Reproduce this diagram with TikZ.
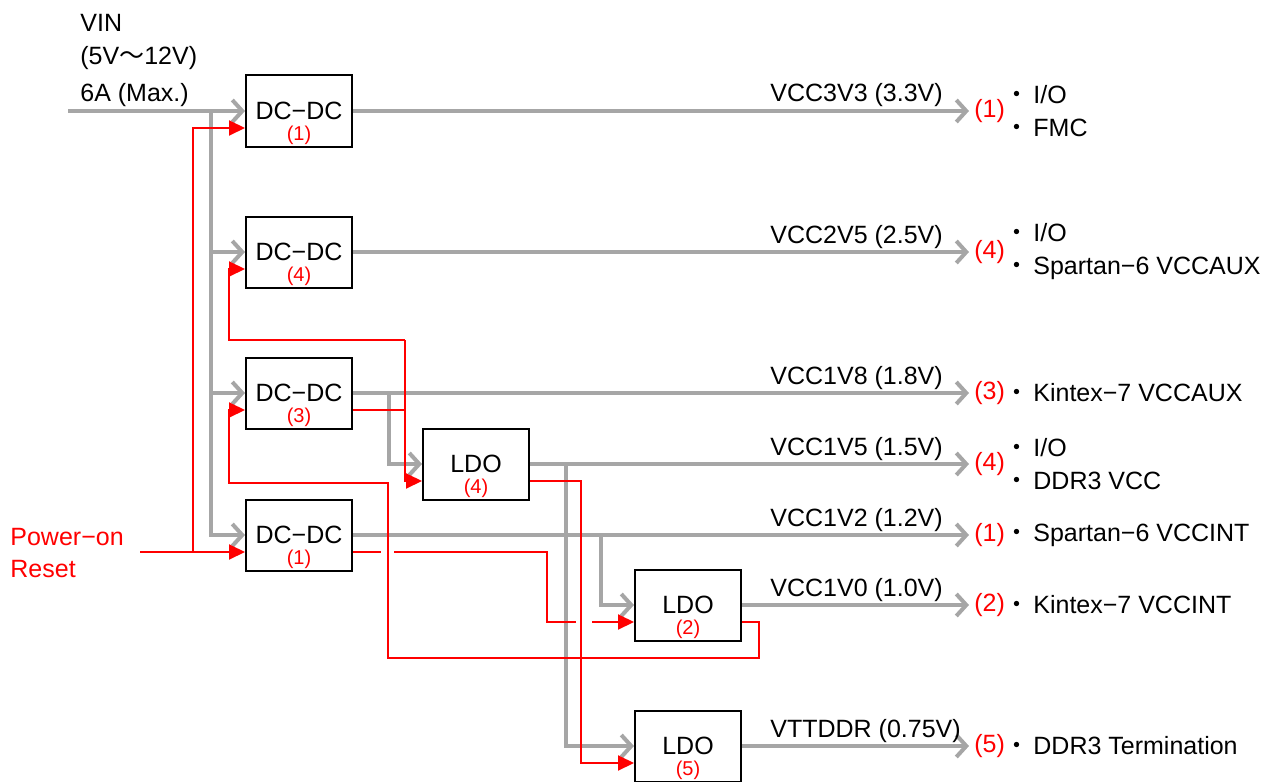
\documentclass[tikz,border=0pt]{standalone}
\usepackage{fontspec}
\setmainfont{Liberation Sans}
\newfontfamily\cjk{Noto Sans CJK JP}
\usetikzlibrary{arrows.meta,calc}
\definecolor{pwrgray}{RGB}{166,166,166}
\newcommand\bul{{\cjk ・}\hspace{2pt}}

\begin{document}
\begin{tikzpicture}[x=0.5pt,y=-0.5pt,font=\fontsize{12.5}{14}\selectfont,
  box/.style={draw=black,line width=1pt,fill=white,minimum width=53pt,minimum height=35.5pt,inner sep=0pt},
  tag/.style={text=red,anchor=south,inner sep=1pt,font=\fontsize{10}{11}\selectfont},
  txt/.style={anchor=base west,inner sep=0pt},
  pwr/.style={draw=pwrgray,line width=2pt,-{Straight Barb[length=5pt,width=11pt]}},
  sig/.style={draw=red,line width=1pt},
  en/.style={sig,-{Triangle[length=8pt,width=7.5pt]}},
  dev/.style={anchor=west,align=left,inner sep=0pt,font=\fontsize{12.5}{16.5}\selectfont}]
\useasboundingbox (0,0) rectangle (1273,781);

% converters
\node[box,label={[tag]south:(1)}] (dcA) at (299,111) {DC−DC};
\node[box,label={[tag]south:(4)}] (dcB) at (299,252) {DC−DC};
\node[box,label={[tag]south:(3)}] (dcC) at (299,393) {DC−DC};
\node[box,label={[tag]south:(1)}] (dcD) at (299,535) {DC−DC};
\node[box,label={[tag]south:(4)}] (ldoA) at (476,464) {LDO};
\node[box,label={[tag]south:(2)}] (ldoB) at (688,605) {LDO};
\node[box,label={[tag]south:(5)}] (ldoC) at (688,746) {LDO};

\foreach \n in {dcA,dcB,dcC,dcD,ldoA,ldoB,ldoC} {
  \coordinate (\n-en) at ($(\n.west)+(0,17)$);
  \coordinate (\n-pg) at ($(\n.east)+(0,17)$);
}
\coordinate (vin) at (68,111);
\coordinate (bus) at (211,111);
\coordinate (por) at (140,552);
\coordinate (rst) at (193,552);
\coordinate (jC) at (405,340);

% input text
\node[txt] (vinA) at (80,32) {VIN};
\node[txt] (vinB) at (80,65) {(5V{\cjk 〜}12V)};
\node[txt] (vinC) at (80,102) {6A (Max.)};
\node[txt,text=red] (porA) at (10,545) {Power−on};
\node[txt,text=red] (porB) at (10,577) {Reset};

% power rails
\draw[pwr] (vin) -- (dcA.west);
\draw[pwr] (bus) |- (dcD.west);
\foreach \b in {dcB,dcC} \draw[pwr] (bus |- \b.west) -- (\b.west);
\draw[pwr] ($(dcC.east)+(36,0)$) |- (ldoA.west);
\draw[pwr] ($(ldoA.east)+(36,0)$) |- (ldoC.west);
\draw[pwr] ($(dcD.east)+(248,0)$) |- (ldoB.west);

\foreach \b/\y/\v/\k [count=\i] in {dcA/111/VCC3V3 (3.3V)/1,dcB/252/VCC2V5 (2.5V)/4,
    dcC/393/VCC1V8 (1.8V)/3,ldoA/464/VCC1V5 (1.5V)/4,dcD/535/VCC1V2 (1.2V)/1,
    ldoB/605/VCC1V0 (1.0V)/2,ldoC/746/VTTDDR (0.75V)/5} {
  \coordinate (out\i) at (969,\y);
  \draw[pwr] (\b.east) -- (out\i);
  \node[txt] (volt\i) at (770,\y-9) {\v};
  \node[anchor=west,text=red,inner sep=0pt] (num\i) at (974,\y) {(\k)};
}

% loads
\node[dev] (devA) at (1004,111) {\bul I/O\\\bul FMC};
\node[dev] (devB) at (1004,252) {\bul I/O\\\bul Spartan−6 VCCAUX};
\node[dev] (devC) at (1004,393) {\bul Kintex−7 VCCAUX};
\node[dev] (devD) at (1004,464) {\bul I/O\\\bul DDR3 VCC};
\node[dev] (devE) at (1004,535) {\bul Spartan−6 VCCINT};
\node[dev] (devF) at (1004,605) {\bul Kintex−7 VCCINT};
\node[dev] (devG) at (1004,746) {\bul DDR3 Termination};

% sequencing
\draw[en] (por) -- (dcD-en);
\draw[en] (rst) |- (dcA-en);
\draw[sig] (dcC-pg) -| (jC);
\draw[en] (jC) -- (229,340) |- (dcB-en);
\draw[en] (jC) |- (ldoA-en);
\draw[en] (ldoB-pg) -- ++(17,0) |- (388,658) -- (388,483) -- (229,483) |- (dcC-en);
\draw[sig] (dcD-pg) -- (381,552);
\draw[sig] (394,552) -| (547,600) |- (576,622);
\draw[en] (592,622) -- (ldoB-en);
\draw[en] (ldoA-pg) -| (581,700) |- (ldoC-en);
\end{tikzpicture}
\end{document}
